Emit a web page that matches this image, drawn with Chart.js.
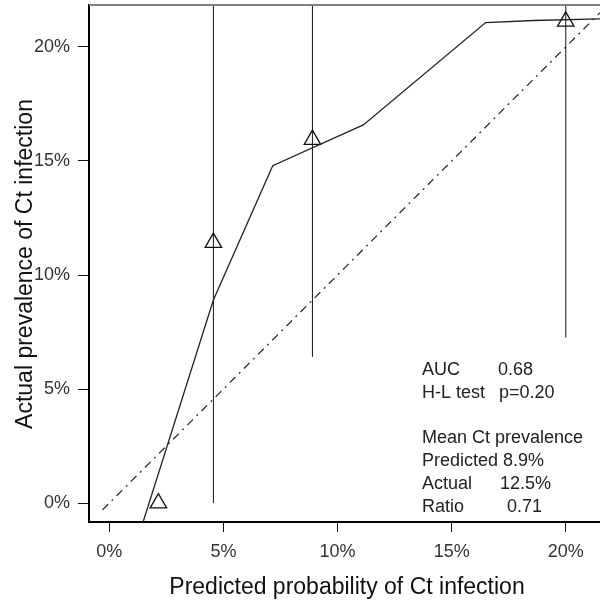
<!DOCTYPE html>
<html>
<head>
<meta charset="utf-8">
<script src="https://cdn.jsdelivr.net/npm/chart.js@4"></script>
<style>
  html, body { margin: 0; padding: 0; background: #fff; }
</style>
</head>
<body>
<canvas id="calib" width="600" height="600"></canvas>
<script>
// Risk groups: mean predicted vs observed prevalence (%)
const groupPredicted = [2.15, 4.56, 8.9, 20.0];
const groupActual = [0, 11.42, 15.94, 21.12];
// 95% confidence limits of observed prevalence (null = no interval)
const ciLower = [null, 0, 6.41, 7.26];
const ciUpper = [null, 29.5, 26.0, 36.0];

// Smoothed calibration curve
const curvePredicted = [1.48, 4.56, 7.16, 11.13, 16.49, 18.58, 21.5];
const curveActual = [-0.83, 8.9, 14.79, 16.58, 21.07, 21.16, 21.23];

// Line of perfect agreement (y = x)
const diagonalRange = [-0.3, 22];

const tickValues = [0, 5, 10, 15, 20];
const tickLabels = ['0%', '5%', '10%', '15%', '20%'];

const statsLabels = ['AUC', 'H-L test', '', 'Mean Ct prevalence', 'Predicted 8.9%', 'Actual', 'Ratio'];
const statsValues = ['0.68', 'p=0.20', '', '', '', '12.5%', '0.71'];

const FONT = "'Liberation Sans', Arial, sans-serif";

const toPoints = (xs, ys) => xs.map((x, i) => ({ x: x, y: ys[i] }));

// one dataset per vertical interval
const errorBars = groupPredicted
    .map((x, i) => ({ x: x, lo: ciLower[i], hi: ciUpper[i] }))
    .filter(d => d.lo !== null)
    .map(d => ({
        data: [{ x: d.x, y: d.lo }, { x: d.x, y: d.hi }],
        showLine: true,
        borderColor: '#111',
        borderWidth: 1,
        pointRadius: 0
    }));

const overlay = {
    id: 'overlay',
    afterDraw(chart) {
        const ctx = chart.ctx;
        const area = chart.chartArea;
        ctx.save();

        // grey top frame line
        ctx.strokeStyle = '#808080';
        ctx.lineWidth = 2;
        ctx.beginPath();
        ctx.moveTo(area.left, area.top);
        ctx.lineTo(area.right, area.top);
        ctx.stroke();

        // axis titles
        ctx.fillStyle = '#111';
        ctx.font = '23px ' + FONT;
        ctx.textAlign = 'center';
        ctx.textBaseline = 'alphabetic';
        ctx.fillText('Predicted probability of Ct infection', 347, 594);

        ctx.save();
        ctx.translate(32, 264);
        ctx.rotate(-Math.PI / 2);
        ctx.fillText('Actual prevalence of Ct infection', 0, 0);
        ctx.restore();

        // statistics block
        ctx.font = '18px ' + FONT;
        ctx.fillStyle = '#222';
        ctx.textAlign = 'left';
        const valueX = [498, 499, 0, 0, 0, 500, 507];
        statsLabels.forEach((label, i) => {
            const y = 375 + i * 22.8;
            if (label) ctx.fillText(label, 422, y);
            if (statsValues[i]) ctx.fillText(statsValues[i], valueX[i], y);
        });

        ctx.restore();
    }
};

function fixedTicks(scale) {
    scale.ticks = tickValues.map(v => ({ value: v }));
}

new Chart(document.getElementById('calib'), {
    type: 'scatter',
    data: {
        datasets: [
            {
                data: diagonalRange.map(v => ({ x: v, y: v })),
                showLine: true,
                borderColor: '#222',
                borderWidth: 1.2,
                borderDash: [8, 5, 2, 5],
                pointRadius: 0
            },
            {
                data: toPoints(curvePredicted, curveActual),
                showLine: true,
                borderColor: '#222',
                borderWidth: 1.3,
                tension: 0,
                pointRadius: 0
            },
            ...errorBars,
            {
                data: toPoints(groupPredicted, groupActual),
                pointStyle: 'triangle',
                pointRadius: 9.5,
                borderColor: '#111',
                borderWidth: 1.3,
                backgroundColor: 'rgba(0,0,0,0)'
            }
        ]
    },
    options: {
        responsive: false,
        animation: false,
        devicePixelRatio: 1,
        layout: { autoPadding: false, padding: { top: 5, right: 0, left: 0, bottom: 0 } },
        plugins: {
            legend: { display: false },
            tooltip: { enabled: false }
        },
        scales: {
            x: {
                type: 'linear',
                min: -0.89,
                max: 21.5,
                border: { color: '#000', width: 2 },
                grid: { drawOnChartArea: false, tickLength: 10, color: '#111', lineWidth: 1 },
                ticks: {
                    autoSkip: false,
                    maxRotation: 0,
                    padding: 9,
                    color: '#333',
                    font: { family: FONT, size: 18 },
                    callback: v => tickLabels[tickValues.indexOf(v)]
                },
                afterBuildTicks: fixedTicks,
                afterFit(scale) {
                    scale.height = 78;
                    scale.paddingLeft = 0;
                    scale.paddingRight = 0;
                }
            },
            y: {
                type: 'linear',
                min: -0.83,
                max: 21.84,
                border: { color: '#000', width: 2 },
                grid: { drawOnChartArea: false, tickLength: 11, color: '#111', lineWidth: 1 },
                ticks: {
                    autoSkip: false,
                    padding: 8,
                    color: '#333',
                    font: { family: FONT, size: 18 },
                    callback: v => tickLabels[tickValues.indexOf(v)]
                },
                afterBuildTicks: fixedTicks,
                afterFit(scale) {
                    scale.width = 89;
                    scale.paddingTop = 0;
                    scale.paddingBottom = 0;
                }
            }
        }
    },
    plugins: [overlay]
});
</script>
</body>
</html>
